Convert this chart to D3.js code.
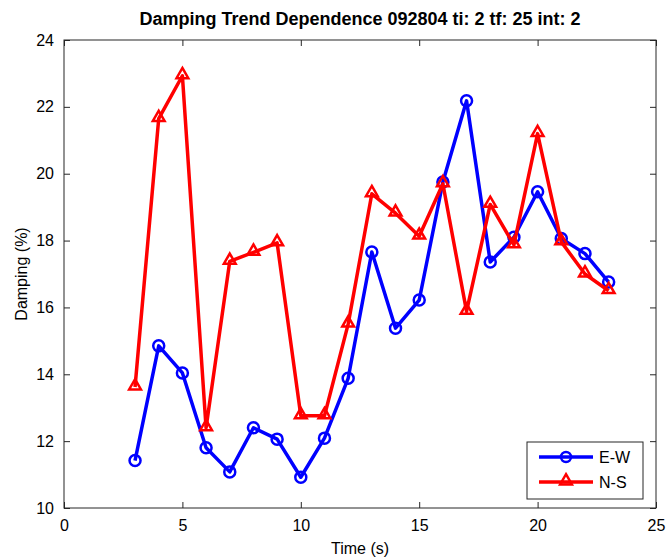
<!DOCTYPE html>
<html>
<head>
<meta charset="utf-8">
<script src="https://cdn.jsdelivr.net/npm/d3@7"></script>
<style>
  body { margin: 0; background: #fff; }
  svg { font-family: "Liberation Sans", Arial, sans-serif; }
</style>
</head>
<body>
<svg id="chart"></svg>
<script>
// time samples (s)
const times = [3, 4, 5, 6, 7, 8, 9, 10, 11, 12, 13, 14, 15, 16, 17, 18, 19, 20, 21, 22, 23];
// damping values (%)
const ewValues = [11.42, 14.85, 14.04, 11.8, 11.08, 12.4, 12.06, 10.92, 12.09, 13.88, 17.66, 15.38,
  16.22, 19.75, 22.18, 17.36, 18.1, 19.46, 18.06, 17.61, 16.76];
const nsValues = [13.62, 21.65, 22.93, 12.4, 17.38, 17.65, 17.93, 12.76, 12.76, 15.5, 19.4, 18.82,
  18.13, 19.7, 15.88, 19.08, 17.87, 21.2, 17.96, 17.0, 16.5];
const xTicks = [0, 5, 10, 15, 20, 25];
const yTicks = [10, 12, 14, 16, 18, 20, 22, 24];
const seriesNames = ['E-W', 'N-S'];
const seriesColors = ['#0000ff', '#ff0000'];

const width = 671, height = 560;
const margin = { top: 40, right: 15, bottom: 52, left: 64 };
const innerW = width - margin.left - margin.right;
const innerH = height - margin.top - margin.bottom;
const axisColor = '#262626';

const svg = d3.select('#chart').attr('width', width).attr('height', height);
const chart = svg.append('g').attr('transform', `translate(${margin.left},${margin.top})`);

const x = d3.scaleLinear().domain([0, 25]).range([0, innerW]);
const y = d3.scaleLinear().domain([10, 24]).range([innerH, 0]);

// box
chart.append('rect')
  .attr('width', innerW).attr('height', innerH)
  .attr('fill', 'none').attr('stroke', axisColor).attr('stroke-width', 1);

// axes with inward ticks
const xAxisG = chart.append('g').attr('transform', `translate(0,${innerH})`)
  .call(d3.axisBottom(x).tickValues(xTicks).tickSizeInner(-6).tickSizeOuter(0).tickPadding(12));
const yAxisG = chart.append('g')
  .call(d3.axisLeft(y).tickValues(yTicks).tickSizeInner(-6).tickSizeOuter(0).tickPadding(10));
const xTop = chart.append('g')
  .call(d3.axisTop(x).tickValues(xTicks).tickSizeInner(-6).tickSizeOuter(0).tickFormat(''));
const yRight = chart.append('g').attr('transform', `translate(${innerW},0)`)
  .call(d3.axisRight(y).tickValues(yTicks).tickSizeInner(-6).tickSizeOuter(0).tickFormat(''));

[xAxisG, yAxisG, xTop, yRight].forEach(g => {
  g.select('.domain').remove();
  g.selectAll('line').attr('stroke', axisColor);
  g.selectAll('text').attr('fill', '#000').style('font-size', '16px').style('font-family', '"Liberation Sans", Arial, sans-serif');
});

// labels
svg.append('text')
  .attr('x', margin.left + innerW / 2).attr('y', 25)
  .attr('text-anchor', 'middle')
  .style('font-size', '18px').style('font-weight', 'bold')
  .text('Damping Trend Dependence 092804 ti: 2 tf: 25 int: 2');

svg.append('text')
  .attr('x', margin.left + innerW / 2).attr('y', 554)
  .attr('text-anchor', 'middle')
  .style('font-size', '16px')
  .text('Time (s)');

svg.append('text')
  .attr('transform', `translate(27,${margin.top + innerH / 2}) rotate(-90)`)
  .attr('text-anchor', 'middle')
  .style('font-size', '16px')
  .text('Damping (%)');

// series
const series = [ewValues, nsValues].map((vals, i) => ({
  name: seriesNames[i],
  color: seriesColors[i],
  points: vals.map((v, j) => ({ t: times[j], v }))
}));

const line = d3.line().x(d => x(d.t)).y(d => y(d.v));
const triangle = d3.symbol().type(d3.symbolTriangle).size(60);

series.forEach((s, i) => {
  chart.append('path')
    .datum(s.points)
    .attr('d', line)
    .attr('fill', 'none')
    .attr('stroke', s.color)
    .attr('stroke-width', 3.5)
    .attr('stroke-linejoin', 'round');

  if (i === 0) {
    chart.selectAll('.mk-ew').data(s.points).enter().append('circle')
      .attr('class', 'mk-ew')
      .attr('cx', d => x(d.t)).attr('cy', d => y(d.v))
      .attr('r', 5.5)
      .attr('fill', 'none').attr('stroke', s.color).attr('stroke-width', 2.5);
  } else {
    chart.selectAll('.mk-ns').data(s.points).enter().append('path')
      .attr('class', 'mk-ns')
      .attr('transform', d => `translate(${x(d.t)},${y(d.v) - 1})`)
      .attr('d', triangle)
      .attr('fill', 'none').attr('stroke', s.color).attr('stroke-width', 2.5)
      .attr('stroke-linejoin', 'miter');
  }
});

// legend
const legend = svg.append('g').attr('transform', 'translate(527,442)');
legend.append('rect')
  .attr('width', 116).attr('height', 57)
  .attr('fill', '#fff').attr('stroke', axisColor).attr('stroke-width', 1);

series.forEach((s, i) => {
  const ly = 15 + i * 25;
  const lg = legend.append('g').attr('transform', `translate(0,${ly})`);
  lg.append('line')
    .attr('x1', 12).attr('x2', 66).attr('y1', 0).attr('y2', 0)
    .attr('stroke', s.color).attr('stroke-width', 3.5);
  if (i === 0) {
    lg.append('circle').attr('cx', 39).attr('cy', 0).attr('r', 5)
      .attr('fill', 'none').attr('stroke', s.color).attr('stroke-width', 2.5);
  } else {
    lg.append('path').attr('transform', 'translate(39,-1)').attr('d', triangle)
      .attr('fill', 'none').attr('stroke', s.color).attr('stroke-width', 2.5);
  }
  lg.append('text')
    .attr('x', 72).attr('y', 0).attr('dy', '0.35em')
    .style('font-size', '16px')
    .text(s.name);
});
</script>
</body>
</html>
